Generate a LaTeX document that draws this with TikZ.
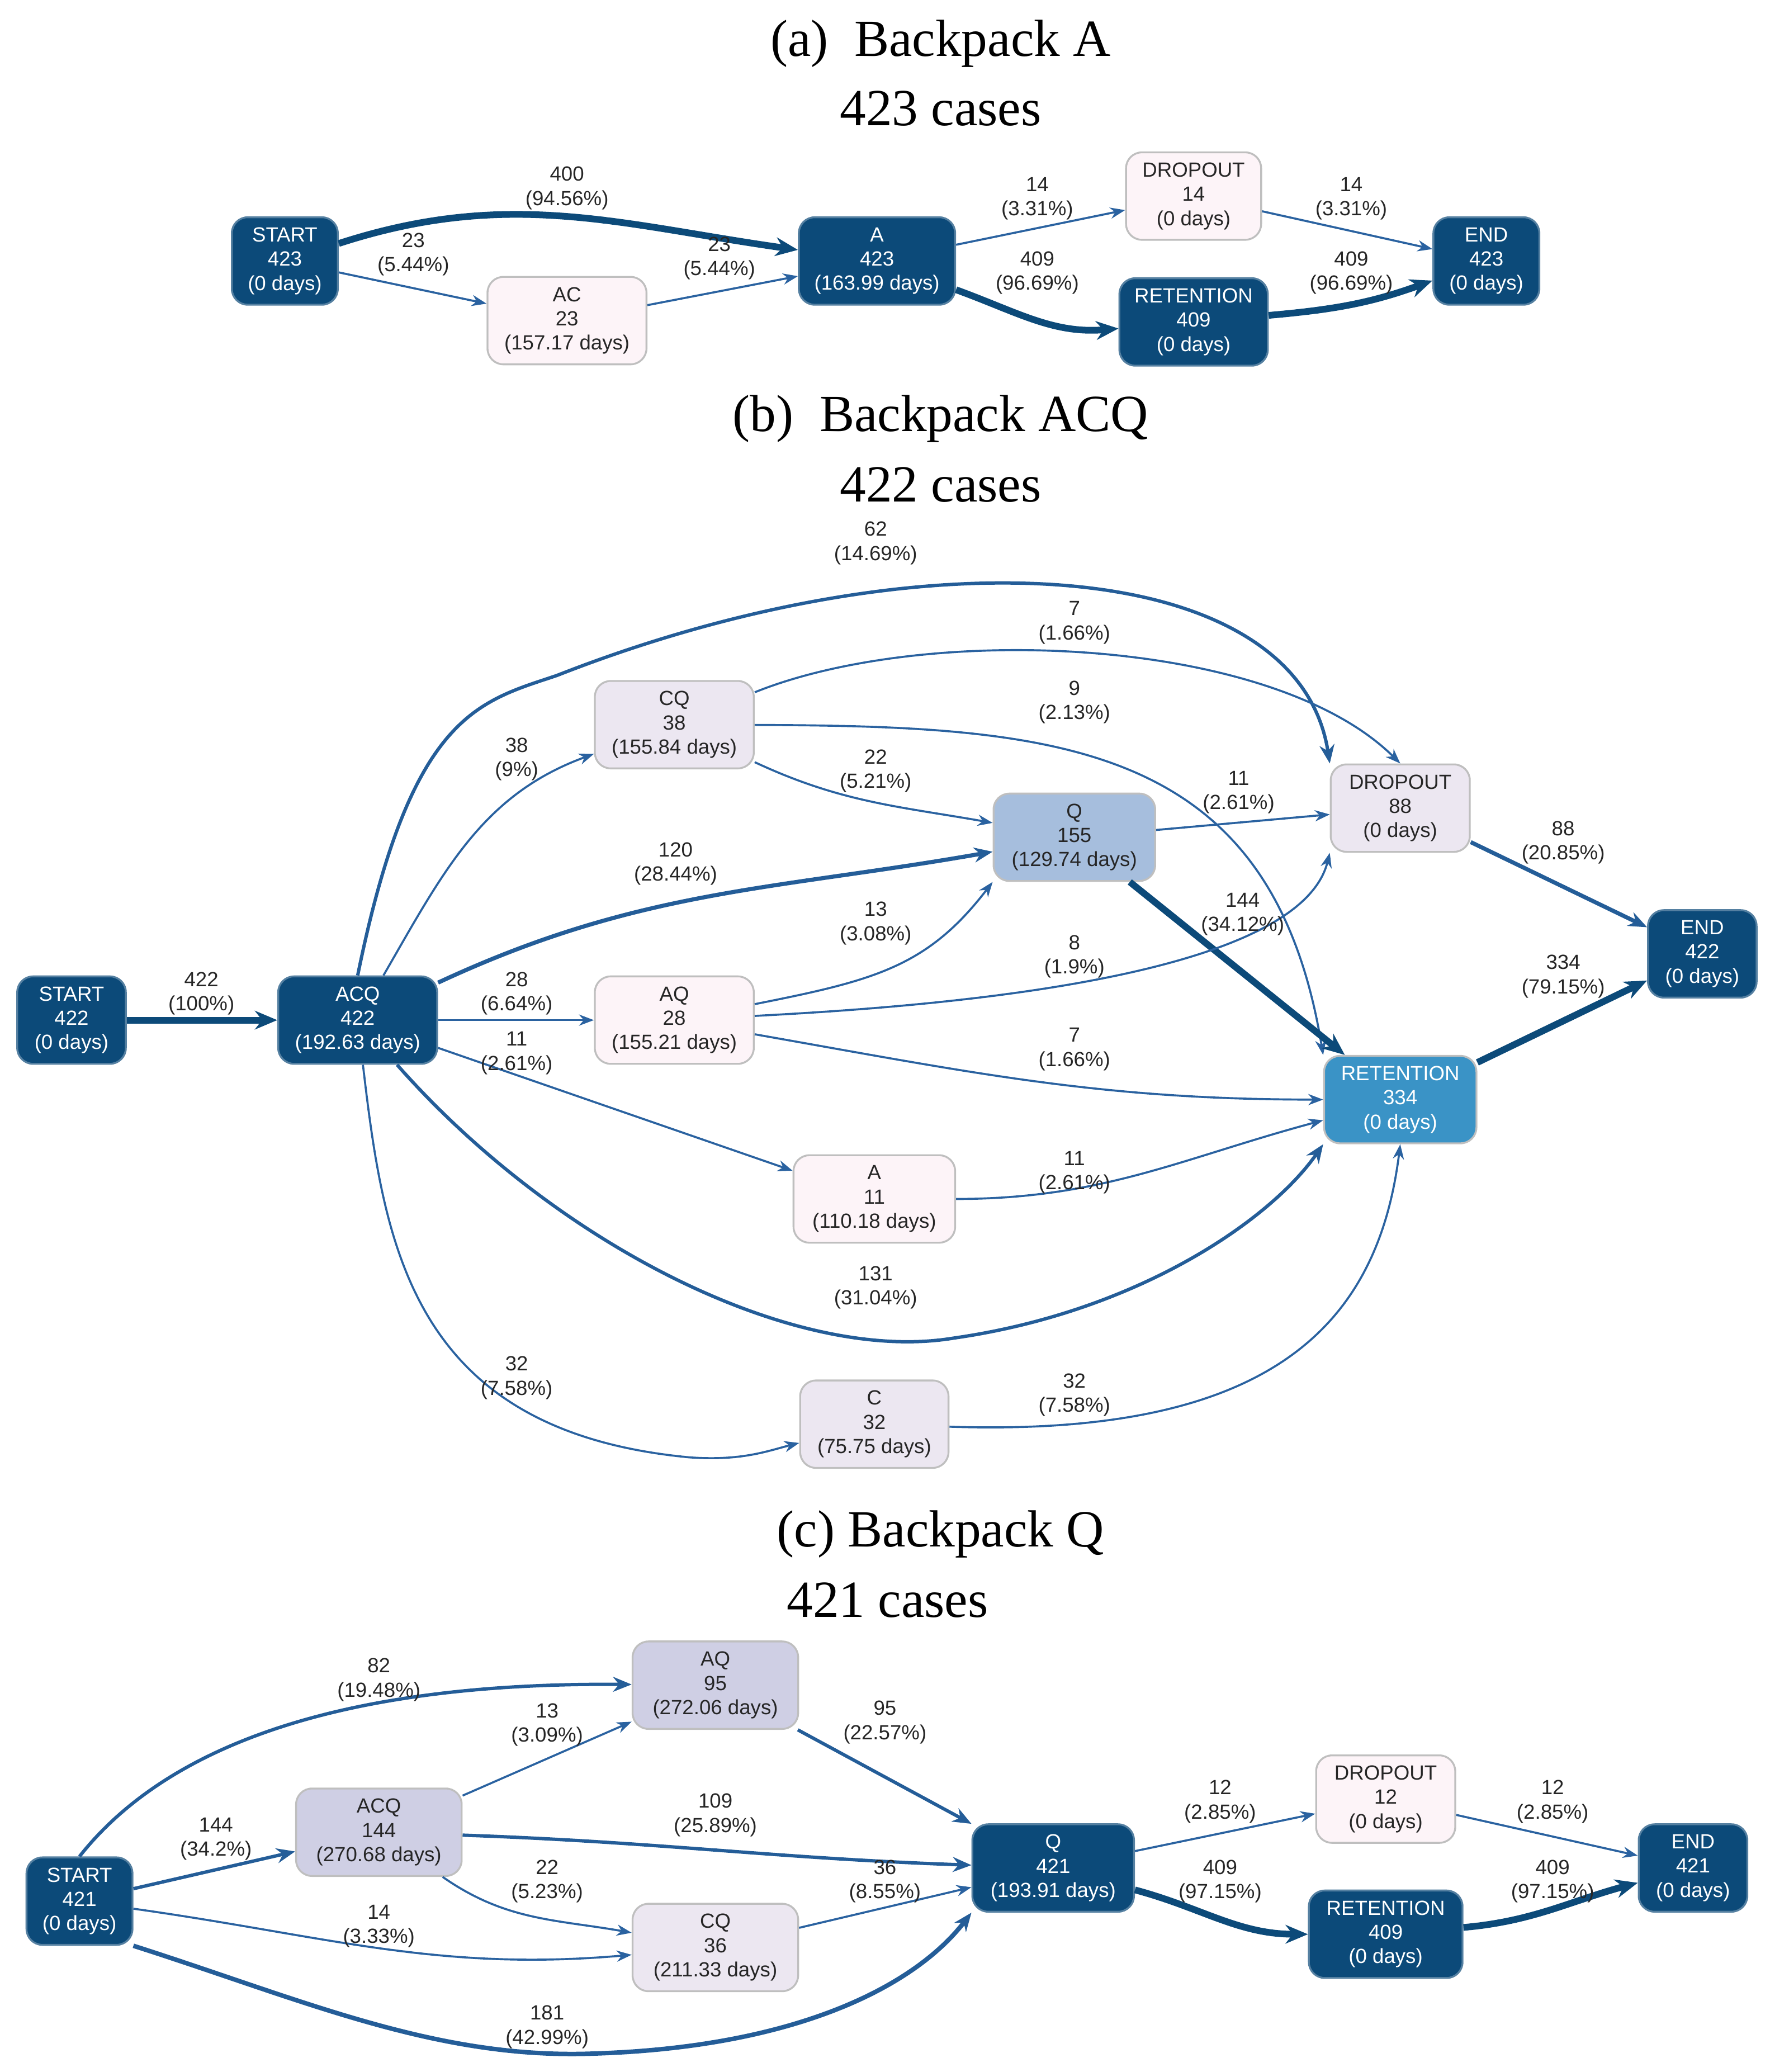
\documentclass[tikz,border=0pt]{standalone}
\usepackage{fontspec}
\setmainfont{Liberation Serif}
\newfontfamily\sansf{Liberation Sans}
\usetikzlibrary{arrows.meta}
\definecolor{dk}{HTML}{0C4A79}
\definecolor{ed}{HTML}{2A62A0}
\definecolor{pk}{HTML}{FDF4F8}
\definecolor{lv}{HTML}{ECE7F1}
\definecolor{qb}{HTML}{A6BEDD}
\definecolor{rb}{HTML}{3A93C6}
\definecolor{pv}{HTML}{CFCFE4}
\begin{document}
\begin{tikzpicture}[x=0.025cm,y=-0.025cm,
 nd/.style={rounded corners=0.3cm,draw=black!25,line width=1pt,align=center,font=\sansf\fontsize{11}{13}\selectfont,minimum width=#1*0.025cm,minimum height=1.65cm,inner sep=1pt},
 dark/.style={nd=#1,fill=dk,text=white,draw=dk!70},
 light/.style={nd=#1,fill=pk,text=black!85},
 lb/.style={align=center,font=\sansf\fontsize{11}{13}\selectfont,text=black!85,inner sep=0pt},
 ttl/.style={font=\fontsize{28}{32}\selectfont},
 e/.style={draw=ed,line width=1.1pt,-{Stealth[length=8pt,width=6pt]}},
 em/.style={draw=ed!80!dk,line width=2.2pt,-{Stealth[length=10pt,width=8pt]}},
 et/.style={draw=dk,line width=3.6pt,-{Stealth[length=12pt,width=10pt]}}]
\useasboundingbox (0,0) rectangle (1336,1564);
% ---------- (a)
\node[ttl] (ta) at (710,33) {(a)\ \ Backpack A};
\node[ttl] (ta2) at (710,82) {423 cases};
\node[dark=80] (as) at (215,197) {START\\423\\(0 days)};
\node[light=120] (aac) at (428,242) {AC\\23\\(157.17 days)};
\node[dark=118] (aa) at (662,197) {A\\423\\(163.99 days)};
\node[light=102] (ad) at (901,148) {DROPOUT\\14\\(0 days)};
\node[dark=112] (ar) at (901,243) {RETENTION\\409\\(0 days)};
\node[dark=80] (ae) at (1122,197) {END\\423\\(0 days)};
\draw[et] (as) to[out=18,in=172] (aa);
\draw[e] (as) -- (aac);
\draw[e] (aac) -- (aa);
\draw[e] (aa) -- (ad);
\draw[et] (aa) to[out=-20,in=185] (ar);
\draw[e] (ad) -- (ae);
\draw[et] (ar) to[out=5,in=200] (ae);
\node[lb] at (428,142) {400\\(94.56\%)};
\node[lb] at (312,192) {23\\(5.44\%)};
\node[lb] at (543,195) {23\\(5.44\%)};
\node[lb] at (783,150) {14\\(3.31\%)};
\node[lb] at (783,206) {409\\(96.69\%)};
\node[lb] at (1020,150) {14\\(3.31\%)};
\node[lb] at (1020,206) {409\\(96.69\%)};
% ---------- (b)
\node[ttl] (tb) at (710,316) {(b)\ \ Backpack ACQ};
\node[ttl] (tb2) at (710,366) {422 cases};
\node[dark=82] (bs) at (54,770) {START\\422\\(0 days)};
\node[dark=120] (bacq) at (270,770) {ACQ\\422\\(192.63 days)};
\node[light=120,fill=lv] (bcq) at (509,547) {CQ\\38\\(155.84 days)};
\node[light=122,fill=qb] (bq) at (811,632) {Q\\155\\(129.74 days)};
\node[light=120] (baq) at (509,770) {AQ\\28\\(155.21 days)};
\node[light=122] (ba) at (660,905) {A\\11\\(110.18 days)};
\node[light=112,fill=lv] (bc) at (660,1075) {C\\32\\(75.75 days)};
\node[light=105,fill=lv] (bd) at (1057,610) {DROPOUT\\88\\(0 days)};
\node[nd=115,fill=rb,text=white] (br) at (1057,830) {RETENTION\\334\\(0 days)};
\node[dark=82] (be) at (1285,720) {END\\422\\(0 days)};
\draw[et] (bs) -- (bacq);
\draw[em,line width=1.8pt] (bacq.north) .. controls (310,540) and (360,530) .. (420,510) .. controls (700,400) and (980,420) .. (bd.north west);
\draw[e] (bacq) to[out=60,in=200] (bcq);
\draw[e] (bcq) .. controls (700,470) and (960,480) .. (bd.north);
\draw[e] (bcq) .. controls (800,548) and (960,560) .. (br.north west);
\draw[e] (bcq) to[out=-25,in=170] (bq);
\draw[em] (bacq) to[out=25,in=190] (bq);
\draw[e] (bq) -- (bd);
\draw[et] (bq) -- (br);
\draw[em] (bd) -- (be);
\draw[et] (br) -- (be);
\draw[e] (bacq) -- (baq);
\draw[e] (baq) .. controls (660,740) and (700,730) .. (bq.south west);
\draw[e] (baq) .. controls (700,760) and (980,740) .. (bd.south west);
\draw[e] (baq) to[out=-10,in=180] (br);
\draw[e] (bacq) -- (ba);
\draw[e] (ba) to[out=0,in=195] (br);
\draw[em,line width=1.8pt] (bacq) .. controls (420,940) and (600,1030) .. (720,1010) .. controls (860,990) and (960,920) .. (br.south west);
\draw[e] (bacq) .. controls (290,940) and (310,1080) .. (520,1100) .. controls (560,1103) and (580,1095) .. (bc);
\draw[e] (bc) .. controls (960,1085) and (1040,1000) .. (br.south);
\node[lb] at (152,750) {422\\(100\%)};
\node[lb] at (661,410) {62\\(14.69\%)};
\node[lb] at (390,573) {38\\(9\%)};
\node[lb] at (811,470) {7\\(1.66\%)};
\node[lb] at (811,530) {9\\(2.13\%)};
\node[lb] at (661,582) {22\\(5.21\%)};
\node[lb] at (510,652) {120\\(28.44\%)};
\node[lb] at (935,598) {11\\(2.61\%)};
\node[lb] at (938,690) {144\\(34.12\%)};
\node[lb] at (1180,636) {88\\(20.85\%)};
\node[lb] at (1180,737) {334\\(79.15\%)};
\node[lb] at (390,750) {28\\(6.64\%)};
\node[lb] at (661,697) {13\\(3.08\%)};
\node[lb] at (811,722) {8\\(1.9\%)};
\node[lb] at (811,792) {7\\(1.66\%)};
\node[lb] at (390,795) {11\\(2.61\%)};
\node[lb] at (811,885) {11\\(2.61\%)};
\node[lb] at (661,972) {131\\(31.04\%)};
\node[lb] at (390,1040) {32\\(7.58\%)};
\node[lb] at (811,1053) {32\\(7.58\%)};
% ---------- (c)
\node[ttl] (tc) at (710,1158) {(c) Backpack Q};
\node[ttl] (tc2) at (670,1208) {421 cases};
\node[dark=80] (cs) at (60,1435) {START\\421\\(0 days)};
\node[light=125,fill=pv] (cacq) at (286,1383) {ACQ\\144\\(270.68 days)};
\node[light=125,fill=pv] (caq) at (540,1272) {AQ\\95\\(272.06 days)};
\node[light=125,fill=lv] (ccq) at (540,1470) {CQ\\36\\(211.33 days)};
\node[dark=122] (cq) at (795,1410) {Q\\421\\(193.91 days)};
\node[light=105] (cd) at (1046,1358) {DROPOUT\\12\\(0 days)};
\node[dark=116] (cr) at (1046,1460) {RETENTION\\409\\(0 days)};
\node[dark=82] (ce) at (1278,1410) {END\\421\\(0 days)};
\draw[em,line width=1.8pt] (cs.north) .. controls (140,1300) and (300,1270) .. (caq);
\draw[em,line width=1.8pt] (cs) -- (cacq);
\draw[e] (cacq) -- (caq);
\draw[em,line width=1.8pt] (caq) -- (cq);
\draw[em,line width=1.8pt] (cacq) to[out=-2,in=178] (cq);
\draw[e] (cacq) to[out=-35,in=170] (ccq);
\draw[e] (cs) to[out=-8,in=185] (ccq);
\draw[e] (ccq) -- (cq);
\draw[em,line width=2.4pt] (cs.south east) .. controls (230,1510) and (330,1555) .. (450,1550) .. controls (600,1545) and (690,1500) .. (cq.south west);
\draw[e] (cq) -- (cd);
\draw[et] (cq) to[out=-15,in=180] (cr);
\draw[e] (cd) -- (ce);
\draw[et] (cr) to[out=5,in=195] (ce);
\node[lb] at (286,1268) {82\\(19.48\%)};
\node[lb] at (163,1388) {144\\(34.2\%)};
\node[lb] at (413,1302) {13\\(3.09\%)};
\node[lb] at (668,1300) {95\\(22.57\%)};
\node[lb] at (540,1370) {109\\(25.89\%)};
\node[lb] at (413,1420) {22\\(5.23\%)};
\node[lb] at (286,1454) {14\\(3.33\%)};
\node[lb] at (668,1420) {36\\(8.55\%)};
\node[lb] at (413,1530) {181\\(42.99\%)};
\node[lb] at (921,1360) {12\\(2.85\%)};
\node[lb] at (921,1420) {409\\(97.15\%)};
\node[lb] at (1172,1360) {12\\(2.85\%)};
\node[lb] at (1172,1420) {409\\(97.15\%)};
\end{tikzpicture}
\end{document}
